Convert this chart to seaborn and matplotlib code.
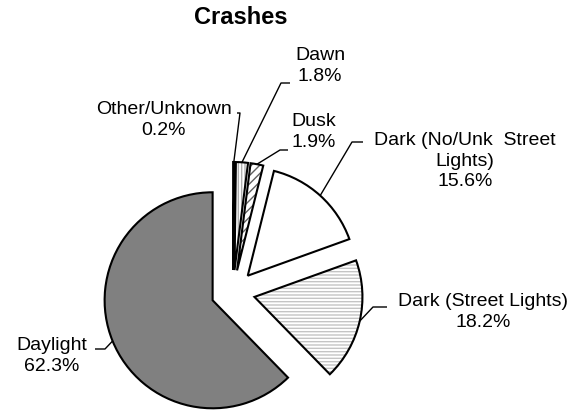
import numpy as np
import seaborn as sns
import matplotlib.pyplot as plt

# crash share by light condition, clockwise from 12 o'clock
categories = ["Other/Unknown", "Dawn", "Dusk", "Dark (No/Unk Street Lights)",
              "Dark (Street Lights)", "Daylight"]
shares = [0.2, 1.8, 1.9, 15.6, 18.2, 62.3]
label_names = ["Other/Unknown", "Dawn", "Dusk", "Dark (No/Unk  Street\nLights)",
               "Dark (Street Lights)", "Daylight"]

fills = ["white", "white", "white", "white", "white", "#808080"]
hatches = [None, "|||||", "////", None, "-----", None]
hatch_cols = ["white", "#b0b0b0", "#606060", "white", "#c4c4c4", "#808080"]

# label layout in pixels (text centre, elbow, end of leader)
text_xy = [(164, 120), (320, 66), (314, 132), (465, 161), (483, 312), (52, 356)]
elbow_xy = [(240, 113), (281, 83), (280, 150), (352, 142), (373, 307), (105, 349)]
end_xy = [(237, 113), (290, 83), (288, 150), (363, 142), (387, 307), (95, 349)]

sns.set_theme(style="white")
plt.rcParams["font.family"] = ["Liberation Sans", "DejaVu Sans"]
plt.rcParams["hatch.linewidth"] = 1.0

W, H = 578, 415
fig = plt.figure(figsize=(W / 100, H / 100), dpi=100)
ax = fig.add_axes([0, 0, 1, 1])

cx, cy, R, expl = 233, 292, 108, 22
# fill layer (hatch colour comes from edgecolor)
wedges, _ = ax.pie(shares, startangle=90, counterclock=False, radius=R,
                   center=(cx, H - cy), explode=[expl] * len(shares),
                   colors=fills, wedgeprops=dict(linewidth=0))
for w, h, hc in zip(wedges, hatches, hatch_cols):
    w.set_edgecolor(hc)
    if h:
        w.set_hatch(h)
# outline layer
outl, _ = ax.pie(shares, startangle=90, counterclock=False, radius=R,
                 center=(cx, H - cy), explode=[expl] * len(shares),
                 colors=["none"] * len(shares),
                 wedgeprops=dict(linewidth=1.5, edgecolor="black", fill=False))

for w, name, val, t, e, f in zip(outl, label_names, shares, text_xy, elbow_xy, end_xy):
    mid = np.deg2rad((w.theta1 + w.theta2) / 2)
    px = w.center[0] + w.r * np.cos(mid)
    py = w.center[1] + w.r * np.sin(mid)
    ax.plot([px, e[0], f[0]], [py, H - e[1], H - f[1]], color="black", lw=1.0,
            solid_capstyle="butt")
    ax.text(t[0], H - t[1], f"{name}\n{val:.1f}%", ha="center", va="center",
            multialignment="center", fontsize=14, linespacing=1.25, color="black")

ax.text(241, H - 18, "Crashes", ha="center", va="center", fontsize=17,
        fontweight="bold", color="black")

ax.set_xlim(0, W)
ax.set_ylim(0, H)
ax.set_aspect("auto")
ax.axis("off")
fig.savefig("out.png", dpi=100)
